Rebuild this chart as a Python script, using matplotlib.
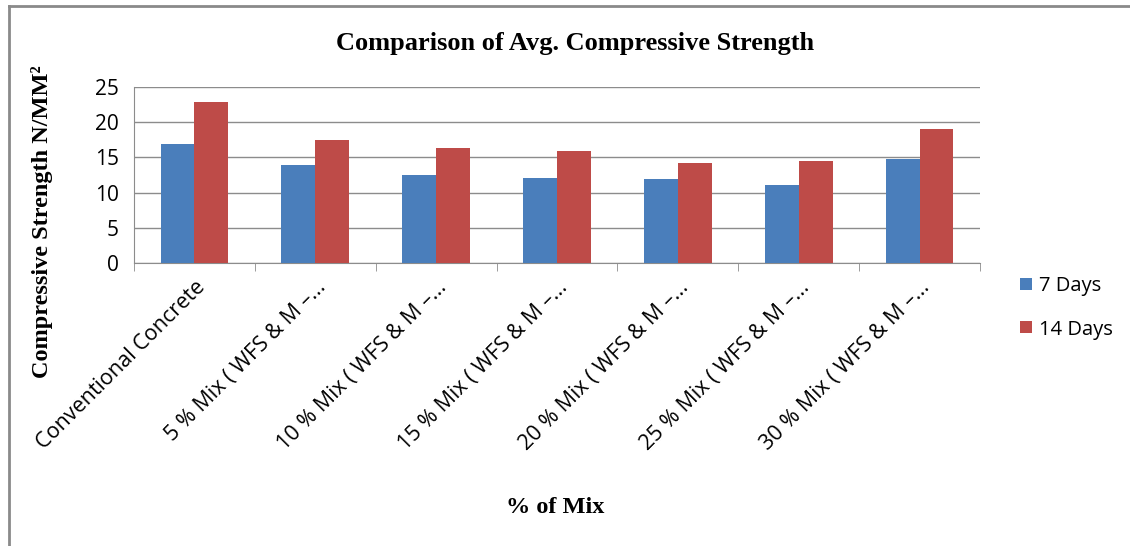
import matplotlib.pyplot as plt
import numpy as np
from matplotlib.lines import Line2D

# data
categories = ["Conventional Concrete",
              "5 % Mix ( WFS & M \u2013...",
              "10 % Mix ( WFS & M \u2013...",
              "15 % Mix ( WFS & M \u2013...",
              "20 % Mix ( WFS & M \u2013...",
              "25 % Mix ( WFS & M \u2013...",
              "30 % Mix ( WFS & M \u2013..."]
days_7 = [16.9, 13.85, 12.5, 12.1, 11.95, 11.05, 14.7]
days_14 = [22.85, 17.45, 16.3, 15.9, 14.2, 14.45, 19.05]

X = np.arange(len(categories))
w = 0.28

fig = plt.figure(figsize=(11.3, 5.46), dpi=100)
ax = fig.add_axes([0.1186, 0.5178, 0.7487, 0.3234])

ax.bar(X - w/2, days_7, w, color="#4a7ebb", label="7 Days", zorder=3)
ax.bar(X + w/2, days_14, w, color="#be4b48", label="14 Days", zorder=3)

ax.set_xlim(-0.5, len(categories) - 0.5)
ax.set_ylim(0, 25)
ax.set_yticks(np.arange(0, 26, 5))
ax.yaxis.grid(True, color="#8c8c8c", lw=1.0, zorder=0)

for s in ["top", "right"]:
    ax.spines[s].set_visible(False)
ax.spines["left"].set_color("#8c8c8c")
ax.spines["bottom"].set_color("#8c8c8c")

ax.set_xticks(X)
ax.set_xticklabels(categories, rotation=45, ha="right", rotation_mode="anchor",
                   fontsize=15.5, family="Open Sans")
ax.tick_params(axis="x", length=0, pad=10)
ax.set_xticks(np.arange(-0.5, len(categories), 1), minor=True)
ax.tick_params(axis="x", which="minor", length=6, color="#8c8c8c")
ax.tick_params(axis="y", length=0, labelsize=15, pad=11)
for t in ax.get_yticklabels():
    t.set_family("Open Sans")

fig.text(0.509, 0.921, "Comparison of Avg. Compressive Strength", ha="center", va="center",
         fontsize=19, fontweight="bold", family="Liberation Serif")
fig.text(0.037, 0.595, "Compressive Strength N/MM\u00b2", rotation=90, ha="center", va="center",
         fontsize=17.5, fontweight="bold", family="Liberation Serif")
fig.text(0.491, 0.07, "% of Mix", ha="center", va="center",
         fontsize=17.5, fontweight="bold", family="Liberation Serif")

leg = fig.legend(loc="upper left", bbox_to_anchor=(0.887, 0.527), frameon=False,
                 handlelength=0.55, handleheight=0.55, handletextpad=0.35, labelspacing=1.15,
                 prop={"family": "Open Sans", "size": 14.5})

# outer chart frame (top and left edges only are visible)
fig.add_artist(Line2D([0.008, 1.0], [0.989, 0.989], transform=fig.transFigure,
                      color="#8a8a8a", lw=2))
fig.add_artist(Line2D([0.008, 0.008], [0.0, 0.989], transform=fig.transFigure,
                      color="#8a8a8a", lw=2))

fig.savefig("out.png", dpi=100)
